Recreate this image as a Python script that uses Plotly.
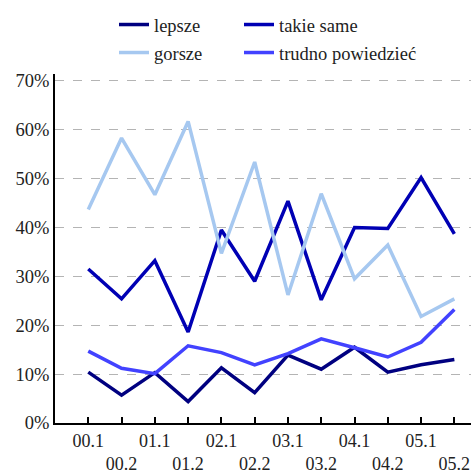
import plotly.graph_objects as go

periods = ["00.1", "00.2", "01.1", "01.2", "02.1", "02.2",
           "03.1", "03.2", "04.1", "04.2", "05.1", "05.2"]

lepsze = [10.4, 5.7, 10.3, 4.4, 11.3, 6.2, 13.9, 11.0, 15.5, 10.4, 11.9, 13.0]
takie_same = [31.5, 25.4, 33.2, 18.6, 39.5, 29.0, 45.4, 25.2, 40.0, 39.8, 50.2, 38.7]
gorsze = [43.7, 58.3, 46.7, 61.7, 34.7, 53.4, 26.2, 46.9, 29.5, 36.4, 21.8, 25.4]
trudno = [14.7, 11.2, 10.1, 15.8, 14.4, 11.9, 14.2, 17.2, 15.4, 13.5, 16.5, 23.2]

y_ticks = [0, 10, 20, 30, 40, 50, 60, 70]

# alternate tick labels on two rows
tick_text = [p if i % 2 == 0 else "<br>" + p for i, p in enumerate(periods)]
x = list(range(len(periods)))

# name, values, colour, legend id, legend position (px from top-left)
series = [
    ("lepsze", lepsze, "#000080", "legend", (114, 25)),
    ("takie same", takie_same, "#0000b4", "legend2", (239, 25)),
    ("gorsze", gorsze, "#a6c8f0", "legend3", (114, 53)),
    ("trudno powiedzieć", trudno, "#4242ff", "legend4", (239, 53)),
]

font = dict(family="Liberation Serif", size=18.5, color="#222222")
xfont = dict(family="Liberation Serif", size=18, color="#222222")

fig = go.Figure()
legends = {}
for name, vals, color, leg, (lx, ly) in series:
    fig.add_trace(go.Scatter(
        x=x, y=vals, mode="lines", name=name,
        line=dict(color=color, width=3.5),
        legend=leg, showlegend=True,
    ))
    legends[leg] = dict(
        x=lx / 471, y=1 - ly / 475, xref="container", yref="container",
        xanchor="left", yanchor="middle", font=font,
        bgcolor="rgba(0,0,0,0)", visible=True,
    )

fig.update_layout(
    width=471,
    height=475,
    margin=dict(l=55, r=0, t=74, b=52, autoexpand=False),
    paper_bgcolor="white",
    plot_bgcolor="white",
    font=font,
    showlegend=True,
    **legends,
)

fig.update_xaxes(
    range=[-1, 11.5],
    tickvals=x,
    ticktext=tick_text,
    tickangle=0,
    tickfont=xfont,
    automargin=False,
    showline=True, linecolor="black", linewidth=2,
    ticks="inside", ticklen=6, tickwidth=1.5, tickcolor="black",
    showgrid=False, zeroline=False,
)
fig.update_yaxes(
    range=[0, 71.4],
    tickvals=y_ticks,
    ticktext=[f"{v}%" for v in y_ticks],
    tickfont=font,
    automargin=False,
    showline=True, linecolor="black", linewidth=2,
    ticks="",
    showgrid=True, gridcolor="#b4b4b4", griddash="dash", gridwidth=1.2,
    zeroline=False,
)

fig.write_html("out.html", config={"displayModeBar": False},
               post_script="document.body.style.margin='0';")
